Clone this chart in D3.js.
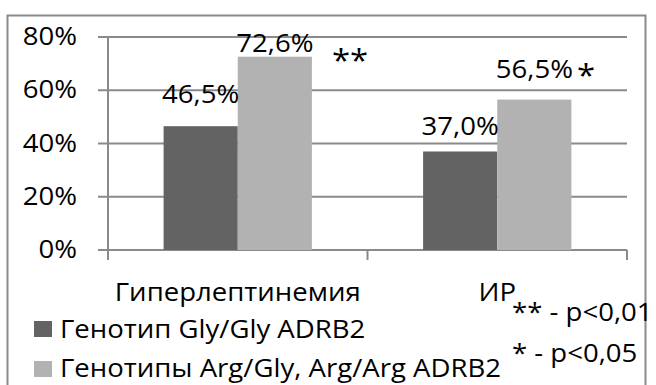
<!DOCTYPE html>
<html>
<head>
<meta charset="utf-8">
<script src="https://cdn.jsdelivr.net/npm/d3@7"></script>
<style>
  html, body { margin: 0; padding: 0; background: #fff; }
  svg { display: block; }
  text { font-family: "Open Sans", "Noto Sans", sans-serif; fill: #000; }
</style>
</head>
<body>
<svg id="chart" width="656" height="385"></svg>
<script>
// Categories and series
const categories = ["Гиперлептинемия", "ИР"];
const seriesNames = ["Генотип Gly/Gly ADRB2", "Генотипы Arg/Gly, Arg/Arg ADRB2"];
const glyGly = [46.5, 37.0];
const argCarriers = [72.6, 56.5];
const yTicks = [0, 20, 40, 60, 80];
const significance = ["**", "*"];
const footnotes = ["** - p<0,01", "* - p<0,05"];

const colors = ["#636363", "#b2b2b2"];
const fontSize = 26;
const sx = 1.06; // horizontal text stretch

const svg = d3.select("#chart");
const plot = { left: 108, right: 627, top: 37, bottom: 250 };

// Outer frame
svg.append("rect")
  .attr("x", 7.5).attr("y", 15.5)
  .attr("width", 638).attr("height", 400)
  .attr("fill", "none").attr("stroke", "#8a8a8a").attr("stroke-width", 2);

const x0 = d3.scaleBand().domain(categories).range([plot.left, plot.right]).paddingInner(0).paddingOuter(0);
const barW = x0.bandwidth() / (2 + 1.5);
const x1 = d3.scaleBand().domain([0, 1]).range([0, barW * 2]);
const y = d3.scaleLinear().domain([0, 80]).range([plot.bottom, plot.top]);

function addText(g, str, x, yy, anchor, size) {
  return g.append("g").attr("transform", `translate(${x},${yy}) scale(${sx},1)`)
    .append("text").attr("text-anchor", anchor || "start")
    .attr("font-size", size || fontSize).text(str);
}

// Gridlines
svg.append("g").selectAll("line").data(yTicks).join("line")
  .attr("x1", plot.left - 10).attr("x2", plot.right)
  .attr("y1", d => y(d)).attr("y2", d => y(d))
  .attr("stroke", "#8a8a8a").attr("stroke-width", 2);

// Y axis line
svg.append("line").attr("x1", plot.left).attr("x2", plot.left)
  .attr("y1", plot.top).attr("y2", plot.bottom)
  .attr("stroke", "#8a8a8a").attr("stroke-width", 2);

// Category ticks
const catEdges = [plot.left, ...categories.slice(1).map(c => x0(c)), plot.right];
svg.append("g").selectAll("line").data(catEdges).join("line")
  .attr("x1", d => d).attr("x2", d => d)
  .attr("y1", plot.bottom).attr("y2", plot.bottom + 10)
  .attr("stroke", "#8a8a8a").attr("stroke-width", 2);

// Y tick labels
const yl = svg.append("g");
yTicks.forEach(t => addText(yl, t + "%", plot.left - 31, y(t) + 8, "end"));

// Bars
const series = [glyGly, argCarriers];
const bars = svg.append("g");
categories.forEach((c, i) => {
  const gx = x0(c) + (x0.bandwidth() - barW * 2) / 2;
  series.forEach((s, j) => {
    bars.append("rect")
      .attr("x", gx + x1(j)).attr("y", y(s[i]))
      .attr("width", barW).attr("height", plot.bottom - y(s[i]))
      .attr("fill", colors[j]);
  });
});

// Value labels (lift above each bar top)
const labelLift = [[23, 16.5], [4.7, 21.6]];
const fmt = v => v.toFixed(1).replace(".", ",") + "%";
const lbl = svg.append("g");
categories.forEach((c, i) => {
  const gx = x0(c) + (x0.bandwidth() - barW * 2) / 2;
  series.forEach((s, j) => {
    const cx = gx + x1(j) + barW / 2;
    addText(lbl, fmt(s[i]), cx, y(s[i]) - labelLift[j][i], "middle");
  });
});

// Significance marks
addText(lbl, significance[0], 332, y(argCarriers[0]) + 14, "start", 31);
addText(lbl, significance[1], 577, y(argCarriers[1]) - 14, "start", 31);

// Category labels
categories.forEach(c => addText(svg, c, x0(c) + x0.bandwidth() / 2, 301, "middle"));

// Legend
const lg = svg.append("g");
seriesNames.forEach((n, j) => {
  lg.append("rect").attr("x", 34).attr("y", 321 + j * 40).attr("width", 18).attr("height", 16).attr("fill", colors[j]);
  addText(lg, n, 60, 338 + j * 39, "start");
});

// Footnotes
footnotes.forEach((f, k) => addText(svg, f, 512, 321 + k * 41, "start"));
</script>
</body>
</html>
